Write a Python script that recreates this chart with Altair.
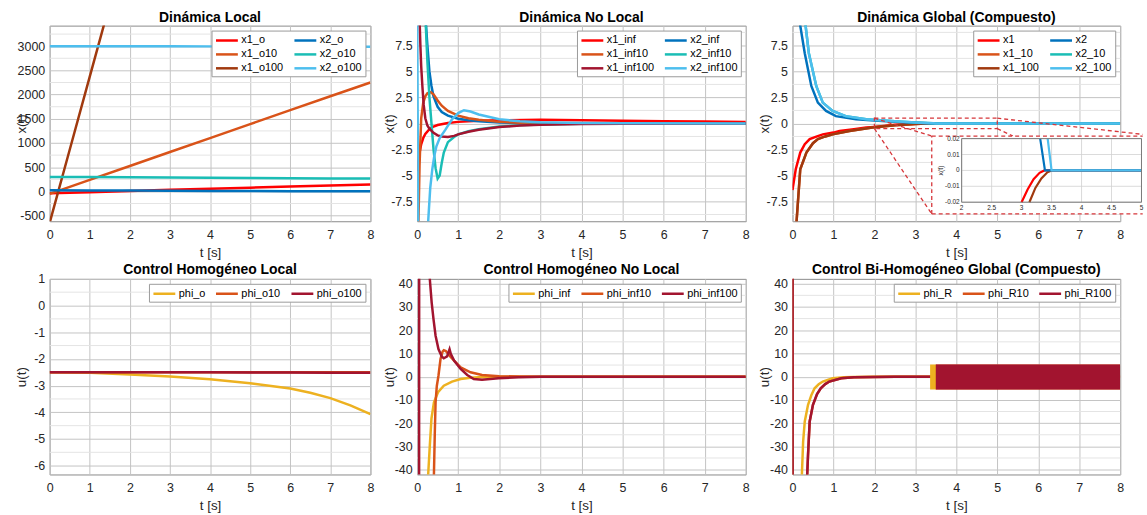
import altair as alt
import pandas as pd

FONT = "Liberation Sans"

RED, ORANGE, BROWN = "#FF0000", "#D95319", "#A0390E"
BLUE, TEAL, LBLUE = "#0072BD", "#1ABDB5", "#4DBEEE"
YELLOW, CRIMSON = "#EDB120", "#A2142F"
DASH = "#D6363A"
GRID, MINOR, FRAME = "#c4c4c4", "#e4e4e4", "#8a8a8a"

T_INT = [0, 1, 2, 3, 4, 5, 6, 7, 8]

# ---------------- Panel 1: Dinámica Local ----------------
x1_o = [-40, -15, 10, 33, 56, 78, 100, 122, 145]
x1_o10 = [-50, 240, 525, 815, 1100, 1390, 1680, 1965, 2250]
x1_o100_t = [0, 0.5, 1, 1.5]
x1_o100 = [-650, 860, 2370, 3880]
x2_o = [22, 20, 17, 14, 11, 8, 6, 4, 2]
x2_o10 = [300, 296, 292, 287, 283, 278, 274, 269, 265]
x2_o100 = [3000, 2999, 2998, 2997, 2996, 2995, 2993, 2992, 2990]
Y1_TICKS = [-500, 0, 500, 1000, 1500, 2000, 2500, 3000]
Y1_MINOR = [-250, 250, 750, 1250, 1750, 2250, 2750, 3250]
Y1_DOM = [-616, 3425]

# ---------------- Panel 2: Dinámica No Local ----------------
x1_inf_t = [0, 0.05, 0.1, 0.15, 0.2, 0.3, 0.4, 0.5, 0.75, 1, 1.5, 2, 3, 4, 5, 6, 7, 8]
x1_inf = [-4.6, -3.0, -2.0, -1.4, -1.0, -0.55, -0.3, -0.15, 0.05, 0.15, 0.25, 0.3, 0.35, 0.3, 0.25, 0.22, 0.18, 0.15]
x2_inf_t = [0.15, 0.2, 0.25, 0.3, 0.35, 0.4, 0.5, 0.6, 0.75, 1, 1.25, 1.5, 2, 2.5, 3, 4, 8]
x2_inf = [16, 10.5, 7.5, 5.0, 3.6, 2.6, 1.6, 1.1, 0.75, 0.45, 0.3, 0.2, 0.08, 0.03, 0.01, 0, 0]
x1_inf10_t = [0, 0.03, 0.06, 0.1, 0.15, 0.2, 0.25, 0.33, 0.4, 0.5, 0.6, 0.75, 1, 1.25, 1.5, 2, 2.5, 3, 4, 8]
x1_inf10 = [-30, -10, -4, 0.5, 2.0, 2.6, 2.9, 3.0, 2.8, 2.2, 1.7, 1.2, 0.75, 0.5, 0.35, 0.15, 0.07, 0.03, 0, 0]
x2_inf10_t = [0.15, 0.2, 0.25, 0.3, 0.35, 0.4, 0.45, 0.5, 0.55, 0.6, 0.65, 0.75, 0.9, 1, 1.25, 1.5, 2, 2.5, 3, 4, 5, 8]
x2_inf10 = [16, 10.5, 6, 2.5, 0, -2.5, -4.3, -5.3, -5.0, -3.8, -2.8, -1.8, -1.3, -1.05, -0.75, -0.55, -0.3, -0.18, -0.1, -0.03, 0, 0]
x1_inf100_t = [0.02, 0.04, 0.065, 0.08, 0.1, 0.13, 0.16, 0.2, 0.25, 0.3, 0.4, 0.5, 0.6, 0.75, 0.9, 1, 1.25, 1.5, 2, 2.5, 3, 4, 5, 8]
x1_inf100 = [25, 15, 9.4, 7.5, 5.5, 3.5, 1.8, 0.5, -0.2, -0.5, -0.9, -1.15, -1.25, -1.3, -1.2, -1.05, -0.8, -0.6, -0.35, -0.2, -0.12, -0.05, -0.02, 0]
x2_inf100_t = [0, 0.015, 0.03, 0.1, 0.2, 0.27, 0.32, 0.37, 0.42, 0.47, 0.55, 0.69, 0.85, 1.0, 1.14, 1.3, 1.5, 2, 2.5, 3, 4, 5, 8]
x2_inf100 = [12, 0, -15, -60, -20, -9.4, -6.2, -4.4, -3.1, -2.2, -1.4, -0.6, 0.4, 1.0, 1.27, 1.15, 0.86, 0.4, 0.2, 0.12, 0.05, 0.02, 0]
Y2_TICKS = [-7.5, -5, -2.5, 0, 2.5, 5, 7.5]
Y2_MINOR = [-8.75, -6.25, -3.75, -1.25, 1.25, 3.75, 6.25, 8.75]
Y2_DOM = [-9.4, 9.4]

# ---------------- Panel 3: Dinámica Global (Compuesto) ----------------
x1_t = [0, 0.08, 0.19, 0.3, 0.42, 0.6, 0.74, 1.0, 1.15, 1.5, 1.8, 2.0, 2.5, 3.0, 3.1, 3.2, 3.3, 3.38, 4, 5, 6, 7, 8]
x1 = [-6.4, -4.4, -2.8, -2.0, -1.5, -1.25, -1.05, -0.88, -0.73, -0.55, -0.4, -0.33, -0.12, -0.02, -0.012, -0.0055, -0.0015, 0, 0, 0, 0, 0, 0]
x1_100_t = [0.05, 0.1, 0.19, 0.34, 0.5, 0.62, 0.8, 0.98, 1.39, 1.95, 2.5, 3.0, 3.13, 3.23, 3.33, 3.43, 3.5, 4, 5, 6, 7, 8]
x1_100 = [-20, -9.4, -4.4, -2.8, -1.9, -1.5, -1.25, -1.05, -0.73, -0.4, -0.18, -0.05, -0.02, -0.011, -0.005, -0.0012, 0, 0, 0, 0, 0, 0]
x2_t = [0.15, 0.19, 0.3, 0.46, 0.62, 0.82, 1.06, 1.55, 2.0, 2.5, 3.0, 3.31, 3.39, 4, 5, 6, 7, 8]
x2 = [14, 9.4, 6.75, 3.6, 2.0, 1.2, 0.7, 0.4, 0.27, 0.15, 0.07, 0.02, 0, 0, 0, 0, 0, 0]
x2_100_t = [0.28, 0.32, 0.4, 0.58, 0.74, 0.98, 1.3, 1.8, 2.5, 3.0, 3.435, 3.5, 4, 5, 6, 7, 8]
x2_100 = [14, 9.4, 6.75, 3.6, 2.0, 1.2, 0.7, 0.4, 0.2, 0.1, 0.02, 0, 0, 0, 0, 0, 0]
x1_10_t, x1_10 = x1_100_t, x1_100
x2_10_t, x2_10 = x2_100_t, x2_100
# zoom window and inset box (data units of the main panel)
ZOOM_T = [2, 5]
ZOOM_Y = [-0.5, 0.5]
BOX_T = [3.40, 8.55]
BOX_Y = [-8.7, -1.21]
INSET_T = [4.13, 8.52]
INSET_Y = [-7.57, -1.46]
INSET_XT = [2, 2.5, 3, 3.5, 4, 4.5, 5]
INSET_XL = ["2", "2.5", "3", "3.5", "4", "4.5", "5"]
INSET_YT = [-0.02, -0.01, 0, 0.01, 0.02]
INSET_YL = ["-0.02", "-0.01", "0", "0.01", "0.02"]

# ---------------- Panel 4: Control Homogéneo Local ----------------
phi_o_t = [0, 1, 2, 3, 4, 5, 6, 6.5, 7, 7.5, 8]
phi_o = [-2.5, -2.52, -2.58, -2.66, -2.76, -2.91, -3.11, -3.27, -3.47, -3.74, -4.07]
phi_o10 = [-2.5] * 9
phi_o100 = [-2.5, -2.5, -2.5, -2.5, -2.5, -2.51, -2.51, -2.52, -2.52]
Y4_TICKS = [-6, -5, -4, -3, -2, -1, 0, 1]
Y4_MINOR = [-5.5, -4.5, -3.5, -2.5, -1.5, -0.5, 0.5]
Y4_DOM = [-6.33, 1]

# ---------------- Panel 5: Control Homogéneo No Local ----------------
phi_inf_t = [0, 0.2, 0.27, 0.31, 0.35, 0.41, 0.51, 0.65, 0.85, 1.06, 1.3, 1.5, 2, 3, 8]
phi_inf = [-300, -80, -42.1, -29.6, -18, -11, -6.7, -3.9, -2.1, -1.0, -0.5, -0.3, -0.05, 0, 0]
phi_inf10_t = [0, 0.38, 0.41, 0.43, 0.45, 0.48, 0.52, 0.57, 0.62, 0.65, 0.7, 0.73, 0.8, 0.9, 1.06, 1.3, 1.58, 2, 2.5, 3, 8]
phi_inf10 = [-300, -60, -42, -25, -11, -4, 0.4, 7.6, 10.8, 11.4, 11, 10.4, 8.8, 6.9, 4.0, 1.9, 0.7, 0.2, 0.05, 0, 0]
phi_inf100_t = [0, 0.045, 0.055, 0.2, 0.31, 0.355, 0.4, 0.45, 0.52, 0.6, 0.65, 0.73, 0.79, 0.82, 0.9, 1.06, 1.22, 1.38, 1.58, 1.98, 2.47, 3, 8]
phi_inf100 = [-300, -300, 300, 150, 41.9, 31.9, 24.7, 17.6, 11.9, 8.7, 7.9, 8.7, 11.8, 9.8, 6.9, 3.3, 0.7, -1.0, -1.3, -0.7, -0.3, 0, 0]
Y5_TICKS = [-40, -30, -20, -10, 0, 10, 20, 30, 40]
Y5_MINOR = [-35, -25, -15, -5, 5, 15, 25, 35]
Y5_DOM = [-42.1, 42.1]

# ---------------- Panel 6: Control Bi-Homogéneo Global ----------------
phi_R_t = [0, 0.18, 0.23, 0.26, 0.3, 0.38, 0.46, 0.54, 0.64, 0.74, 0.98, 1.25, 1.5, 2, 3.36, 8]
phi_R = [-300, -80, -42.1, -28, -19.3, -12.1, -8, -5, -3.3, -2.1, -0.7, -0.3, -0.15, -0.05, 0, 0]
phi_R100_t = [0, 0.003, 0.3, 0.36, 0.38, 0.42, 0.5, 0.6, 0.69, 0.8, 0.9, 1.19, 1.5, 2, 2.5, 3.5, 8]
phi_R100 = [300, -300, -80, -42.1, -33.6, -19.3, -12.1, -7.5, -5, -3.2, -2.1, -0.7, -0.3, -0.1, -0.03, 0, 0]
phi_R10_t, phi_R10 = phi_R100_t, phi_R100
CHAT_SERIES = ["phi_R", "phi_R10", "phi_R100"]
CHAT_START = [3.36, 3.5, 3.5]
CHAT_END = [3.51, 8, 8]
CHAT_LO = [-5.5, -5.5, -5.5]
CHAT_HI = [5.2, 5.2, 5.2]

# ---------------------------------------------------------------
W = [323, 331, 330]
H = 197


def long_df(series):
    rows = []
    for name, ts, vs in series:
        for t, v in zip(ts, vs):
            rows.append({"series": name, "t": t, "v": v})
    return pd.DataFrame(rows)


def make_legend(cols):
    return alt.Legend(
        title=None, orient="top-right", offset=5, columns=cols,
        symbolType="M-1,0L3,0", symbolSize=121, symbolStrokeWidth=2.5,
        labelOffset=13, labelFontSize=11, labelFont=FONT, labelColor="black",
        padding=3, rowPadding=2, columnPadding=5,
        strokeColor="#9a9a9a", fillColor="white",
    )


def panel(series, names, colors, ydom, yticks, yminor, ytitle, cols, extra=None):
    df = long_df(series)
    xs = alt.Scale(domain=[0, 8], nice=False, zero=False)
    ys = alt.Scale(domain=ydom, nice=False, zero=False)
    xaxis = alt.Axis(values=T_INT, title="t [s]", labelExpr="datum.value + ''")
    yaxis = alt.Axis(values=yticks, title=ytitle, labelExpr="datum.value + ''")
    minor = alt.Chart(pd.DataFrame({"v": yminor})).mark_rule(
        color=MINOR, strokeWidth=1).encode(y=alt.Y("v:Q", scale=ys, axis=yaxis))
    lines = alt.Chart(df).mark_line(clip=True, strokeWidth=2.5).encode(
        x=alt.X("t:Q", scale=xs, axis=xaxis),
        y=alt.Y("v:Q", scale=ys, axis=yaxis),
        color=alt.Color("series:N", scale=alt.Scale(domain=names, range=colors),
                        legend=make_legend(cols)),
    )
    layers = [minor, lines]
    if extra is not None:
        layers += extra(xs, ys, xaxis, yaxis)
    return layers


# ---- Panel 1
p1_series = [("x1_o", T_INT, x1_o), ("x1_o10", T_INT, x1_o10), ("x1_o100", x1_o100_t, x1_o100),
             ("x2_o", T_INT, x2_o), ("x2_o10", T_INT, x2_o10), ("x2_o100", T_INT, x2_o100)]
p1_names = ["x1_o", "x1_o10", "x1_o100", "x2_o", "x2_o10", "x2_o100"]
p1_cols = [RED, ORANGE, BROWN, BLUE, TEAL, LBLUE]
p1 = alt.layer(*panel(p1_series, p1_names, p1_cols, Y1_DOM, Y1_TICKS, Y1_MINOR,
                      "x(t)", 2)).properties(width=W[0], height=H, title="Dinámica Local")

# ---- Panel 2
p2_series = [("x1_inf", x1_inf_t, x1_inf), ("x2_inf", x2_inf_t, x2_inf),
             ("x1_inf10", x1_inf10_t, x1_inf10), ("x2_inf10", x2_inf10_t, x2_inf10),
             ("x1_inf100", x1_inf100_t, x1_inf100), ("x2_inf100", x2_inf100_t, x2_inf100)]
p2_names = ["x1_inf", "x1_inf10", "x1_inf100", "x2_inf", "x2_inf10", "x2_inf100"]
p2_cols = [RED, ORANGE, CRIMSON, BLUE, TEAL, LBLUE]
p2 = alt.layer(*panel(p2_series, p2_names, p2_cols, Y2_DOM, Y2_TICKS, Y2_MINOR,
                      "x(t)", 2)).properties(width=W[1], height=H, title="Dinámica No Local")

# ---- Panel 3 (with zoom inset)
p3_series = [("x1", x1_t, x1), ("x1_10", x1_10_t, x1_10), ("x1_100", x1_100_t, x1_100),
             ("x2", x2_t, x2), ("x2_10", x2_10_t, x2_10), ("x2_100", x2_100_t, x2_100)]
p3_names = ["x1", "x1_10", "x1_100", "x2", "x2_10", "x2_100"]
p3_cols = [RED, ORANGE, BROWN, BLUE, TEAL, LBLUE]


def p3_extra(xs, ys, xaxis, yaxis):
    dash = dict(color=DASH, strokeWidth=1.3, strokeDash=[4, 3], clip=False)
    small = alt.Chart(pd.DataFrame({"a": [ZOOM_T[0]], "b": [ZOOM_T[1]], "c": [ZOOM_Y[0]], "d": [ZOOM_Y[1]]})).mark_rect(
        fillOpacity=0, stroke=DASH, strokeWidth=1.3, strokeDash=[4, 3], clip=False).encode(
        x=alt.X("a:Q", scale=xs, axis=xaxis), x2="b:Q", y=alt.Y("c:Q", scale=ys, axis=yaxis), y2="d:Q")
    conn = pd.DataFrame({
        "a": [ZOOM_T[0], ZOOM_T[0], ZOOM_T[1], ZOOM_T[1]],
        "c": [ZOOM_Y[1], ZOOM_Y[0], ZOOM_Y[1], ZOOM_Y[0]],
        "b": [BOX_T[0], BOX_T[0], BOX_T[1], 5.38],
        "d": [BOX_Y[1], BOX_Y[0], -1.05, BOX_Y[1]],
    })
    connectors = alt.Chart(conn).mark_rule(**dash).encode(
        x=alt.X("a:Q", scale=xs, axis=xaxis), x2="b:Q", y=alt.Y("c:Q", scale=ys, axis=yaxis), y2="d:Q")
    box_fill = alt.Chart(pd.DataFrame({"a": [BOX_T[0]], "b": [BOX_T[1]], "c": [BOX_Y[0]], "d": [BOX_Y[1]]})).mark_rect(
        color="white", opacity=1, clip=False).encode(
        x=alt.X("a:Q", scale=xs, axis=xaxis), x2="b:Q", y=alt.Y("c:Q", scale=ys, axis=yaxis), y2="d:Q")
    edges = pd.DataFrame({
        "a": [BOX_T[0], BOX_T[0], BOX_T[0]],
        "b": [BOX_T[1], BOX_T[1], BOX_T[0]],
        "c": [BOX_Y[1], BOX_Y[0], BOX_Y[0]],
        "d": [BOX_Y[1], BOX_Y[0], BOX_Y[1]],
    })
    box_edges = alt.Chart(edges).mark_rule(**dash).encode(
        x=alt.X("a:Q", scale=xs, axis=xaxis), x2="b:Q", y=alt.Y("c:Q", scale=ys, axis=yaxis), y2="d:Q")
    return [small, connectors, box_fill, box_edges]


main3 = alt.layer(*panel(p3_series, p3_names, p3_cols, Y2_DOM, Y2_TICKS,
                         Y2_MINOR, "x(t)", 2, extra=p3_extra))


def px_x(t):
    return t / 8 * W[2]


def px_y(v):
    return (Y2_DOM[1] - v) / (Y2_DOM[1] - Y2_DOM[0]) * H


ixs = alt.Scale(domain=[2, 5], range=[px_x(INSET_T[0]), px_x(INSET_T[1])], nice=False, zero=False)
iys = alt.Scale(domain=[-0.02, 0.02], range=[px_y(INSET_Y[0]), px_y(INSET_Y[1])], nice=False, zero=False)

ins_df = long_df([("x1", x1_t, x1), ("x1_100", x1_100_t, x1_100), ("x2", x2_t, x2), ("x2_100", x2_100_t, x2_100)])
ins_df = ins_df[(ins_df.t >= 2) & (ins_df.t <= 5) & (ins_df.v >= -0.02) & (ins_df.v <= 0.02)]

ibg = alt.Chart(pd.DataFrame({"a": [2], "b": [5], "c": [-0.02], "d": [0.02]})).mark_rect(
    color="white", opacity=1).encode(
    x=alt.X("a:Q", scale=ixs, axis=None), x2="b:Q", y=alt.Y("c:Q", scale=iys, axis=None), y2="d:Q")
igv = alt.Chart(pd.DataFrame({"a": INSET_XT, "c": [-0.02] * 7, "d": [0.02] * 7})).mark_rule(
    color="#d0d0d0", strokeWidth=0.8).encode(
    x=alt.X("a:Q", scale=ixs, axis=None), y=alt.Y("c:Q", scale=iys, axis=None), y2="d:Q")
igh = alt.Chart(pd.DataFrame({"c": INSET_YT, "a": [2] * 5, "b": [5] * 5})).mark_rule(
    color="#d0d0d0", strokeWidth=0.8).encode(
    x=alt.X("a:Q", scale=ixs, axis=None), x2="b:Q", y=alt.Y("c:Q", scale=iys, axis=None))
ilines = alt.Chart(ins_df).mark_line(strokeWidth=2.2).encode(
    x=alt.X("t:Q", scale=ixs, axis=None), y=alt.Y("v:Q", scale=iys, axis=None),
    stroke=alt.Stroke("series:N", scale=alt.Scale(domain=["x1", "x1_100", "x2", "x2_100"],
                                                  range=[RED, BROWN, BLUE, LBLUE]), legend=None))
iframe = alt.Chart(pd.DataFrame({"a": [2], "b": [5], "c": [-0.02], "d": [0.02]})).mark_rect(
    fillOpacity=0, stroke="#7a7a7a", strokeWidth=1).encode(
    x=alt.X("a:Q", scale=ixs, axis=None), x2="b:Q", y=alt.Y("c:Q", scale=iys, axis=None), y2="d:Q")
ixl = alt.Chart(pd.DataFrame({"a": INSET_XT, "c": [-0.02] * 7, "s": INSET_XL})).mark_text(
    font=FONT, fontSize=6.5, baseline="top", dy=3, color="#262626").encode(
    x=alt.X("a:Q", scale=ixs, axis=None), y=alt.Y("c:Q", scale=iys, axis=None), text="s:N")
iyl = alt.Chart(pd.DataFrame({"c": INSET_YT, "a": [2] * 5, "s": INSET_YL})).mark_text(
    font=FONT, fontSize=6.5, align="right", baseline="middle", dx=-2, color="#262626").encode(
    x=alt.X("a:Q", scale=ixs, axis=None), y=alt.Y("c:Q", scale=iys, axis=None), text="s:N")
iyt = alt.Chart(pd.DataFrame({"a": [2], "c": [0], "s": ["x(t)"]})).mark_text(
    font=FONT, fontSize=7, angle=270, align="center", baseline="bottom", dy=-18, color="#262626").encode(
    x=alt.X("a:Q", scale=ixs, axis=None), y=alt.Y("c:Q", scale=iys, axis=None), text="s:N")
inset = alt.layer(ibg, igv, igh, ilines, iframe, ixl, iyl, iyt)

p3 = alt.layer(main3, inset).resolve_scale(x="independent", y="independent").properties(
    width=W[2], height=H, title="Dinámica Global (Compuesto)")

# ---- Panel 4
p4_series = [("phi_o", phi_o_t, phi_o), ("phi_o10", T_INT, phi_o10), ("phi_o100", T_INT, phi_o100)]
p4_names = ["phi_o", "phi_o10", "phi_o100"]
p4_cols = [YELLOW, ORANGE, CRIMSON]
p4 = alt.layer(*panel(p4_series, p4_names, p4_cols, Y4_DOM, Y4_TICKS, Y4_MINOR,
                      "u(t)", 3)).properties(width=W[0], height=H,
                                             title=alt.TitleParams("Control Homogéneo Local", offset=-4))

# ---- Panel 5
p5_series = [("phi_inf", phi_inf_t, phi_inf), ("phi_inf10", phi_inf10_t, phi_inf10),
             ("phi_inf100", phi_inf100_t, phi_inf100)]
p5_names = ["phi_inf", "phi_inf10", "phi_inf100"]
p5_cols = [YELLOW, ORANGE, CRIMSON]
p5 = alt.layer(*panel(p5_series, p5_names, p5_cols, Y5_DOM, Y5_TICKS, Y5_MINOR,
                      "u(t)", 3)).properties(width=W[1], height=H, title="Control Homogéneo No Local")

# ---- Panel 6
p6_series = [("phi_R", phi_R_t, phi_R), ("phi_R10", phi_R10_t, phi_R10), ("phi_R100", phi_R100_t, phi_R100)]
p6_names = ["phi_R", "phi_R10", "phi_R100"]
p6_cols = [YELLOW, ORANGE, CRIMSON]


def p6_extra(xs, ys, xaxis, yaxis):
    band = pd.DataFrame({"series": CHAT_SERIES, "a": CHAT_START, "b": CHAT_END, "c": CHAT_LO, "d": CHAT_HI})
    return [alt.Chart(band).mark_rect(clip=True).encode(
        x=alt.X("a:Q", scale=xs, axis=xaxis), x2="b:Q", y=alt.Y("c:Q", scale=ys, axis=yaxis), y2="d:Q",
        fill=alt.Fill("series:N", scale=alt.Scale(domain=p6_names, range=p6_cols), legend=None))]


p6 = alt.layer(*panel(p6_series, p6_names, p6_cols, Y5_DOM, Y5_TICKS,
                      Y5_MINOR, "u(t)", 3, extra=p6_extra)).properties(
    width=W[2], height=H, title="Control Bi-Homogéneo Global (Compuesto)")

IND = dict(color="independent", stroke="independent", fill="independent")
row1 = alt.hconcat(p1, p2, p3, spacing=7).resolve_scale(**IND).resolve_legend(color="independent")
row2 = alt.hconcat(p4, p5, p6, spacing=7).resolve_scale(**IND).resolve_legend(color="independent")

chart = alt.vconcat(row1, row2, spacing=3).resolve_scale(**IND).resolve_legend(color="independent").properties(
    padding={"left": 14, "top": 8, "right": 0, "bottom": 0}, background="white"
).configure_view(stroke=FRAME, strokeWidth=1).configure_axis(
    labelFont=FONT, labelFontSize=12.5, labelColor="#262626",
    titleFont=FONT, titleFontSize=13.5, titleFontWeight="normal", titleColor="#262626",
    grid=True, gridColor=GRID, gridWidth=1, ticks=False, domain=False,
    labelFlush=False, labelOverlap=False, labelPadding=5,
).configure_axisY(minExtent=20, maxExtent=20, titlePadding=1).configure_axisX(
    labelPadding=7.5, titlePadding=4
).configure_title(font=FONT, fontSize=14, fontWeight="bold", color="black", offset=1,
                  anchor="middle", frame="group", baseline="alphabetic")

chart.save("out.html", embed_options={"renderer": "svg", "actions": False})
